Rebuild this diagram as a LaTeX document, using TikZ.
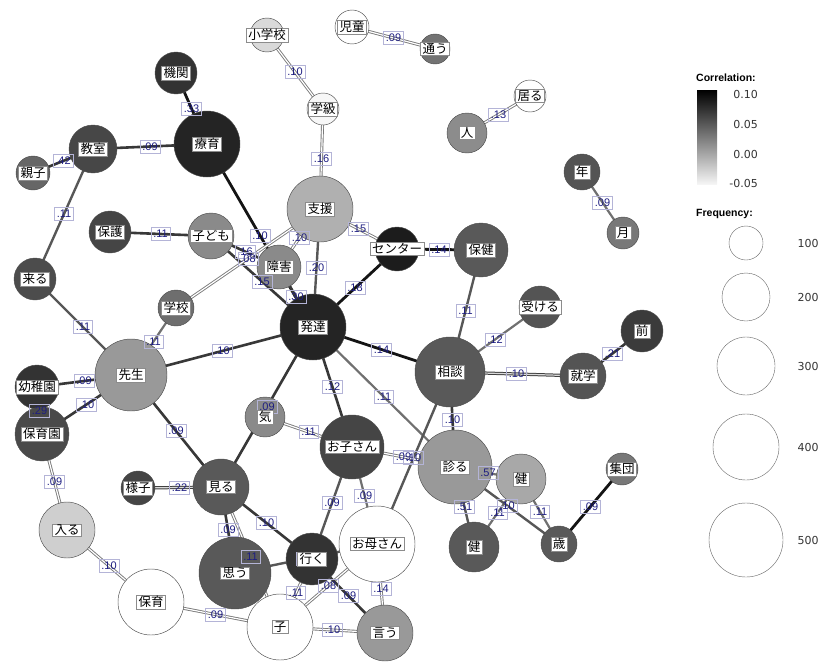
\documentclass[tikz,border=0pt]{standalone}
\usepackage{fontspec}
\setmainfont{Liberation Sans}
\newfontfamily\jp{Noto Sans CJK JP}
\newfontfamily\dv{DejaVu Sans}
\usetikzlibrary{calc}
\pgfdeclarelayer{bg}\pgfdeclarelayer{mid}\pgfdeclarelayer{fg}
\pgfsetlayers{bg,main,mid,fg}
\definecolor{navy}{RGB}{30,30,130}
\definecolor{lbox}{RGB}{180,180,215}
\tikzset{
  wn/.style={circle, draw=black!70, line width=0.45pt, inner sep=0pt},
  lab/.style={fill=white, draw=black!45, line width=0.3pt, inner xsep=2pt, inner ysep=1pt, font=\jp\fontsize{12.5}{12.5}\selectfont},
  elab/.style={draw=lbox, line width=0.45pt, inner xsep=2.2pt, inner ysep=2.6pt, text=navy, font=\fontsize{11}{11}\selectfont},
  eK/.style={draw=black!92, line width=2.8pt},
  eD/.style={draw=black!78, line width=2.6pt},
  eM/.style={draw=black!66, line width=2.4pt},
  eG/.style={draw=black!56, line width=2.2pt},
  eW/.style={draw=black!52, double=white, line width=0.9pt, double distance=1.2pt},
  eWd/.style={draw=black!75, double=black!15, line width=1pt, double distance=1.2pt},
  legc/.style={circle, draw=black!60, line width=0.4pt, inner sep=0pt},
  legt/.style={font=\dv\fontsize{11}{11}\selectfont, text=black!80},
}
\newcommand\N[6]{\node[wn, minimum size=#4pt, fill=#5] (#1) at (#2,#3) {};
  \begin{pgfonlayer}{fg}\node[lab] (#1t) at (#1.center) {#6};\end{pgfonlayer}}
\newcommand\E[4]{\begin{pgfonlayer}{bg}\draw[#3] (#1.center) -- (#2.center);\end{pgfonlayer}
  \begin{pgfonlayer}{mid}\node[elab] (#1#2) at ($(#1.center)!0.5!(#2.center)$) {#4};\end{pgfonlayer}}
\begin{document}
\begin{tikzpicture}[x=1pt, y=-1pt]
\useasboundingbox (0,0) rectangle (821,661);
% nodes
\N{shogakko}{267}{35}{34}{black!15}{小学校}
\N{jido}{352}{27}{34}{white}{児童}
\N{kayou}{435}{49}{30}{black!55}{通う}
\N{gakkyu}{323}{109}{32}{black!3}{学級}
\N{kikan}{176}{73}{42}{black!80}{機関}
\N{ryoiku}{207}{144}{66}{black!86}{療育}
\N{kyoshitsu}{93}{149}{48}{black!72}{教室}
\N{oyako}{33}{173}{34}{black!60}{親子}
\N{hito}{467}{133}{40}{black!45}{人}
\N{iru}{530}{96}{32}{white}{居る}
\N{nen}{582}{172}{36}{black!67}{年}
\N{tsuki}{623}{233}{32}{black!53}{月}
\N{shien}{320}{209}{66}{black!31}{支援}
\N{hogo}{110}{232}{42}{black!73}{保護}
\N{kodomo}{211}{236}{46}{black!46}{子ども}
\N{shogai}{279}{267}{44}{black!46}{障害}
\N{center}{397}{249}{44}{black!89}{センター}
\N{hoken}{481}{250}{54}{black!65}{保健}
\N{kuru}{35}{279}{42}{black!70}{来る}
\N{gakko}{176}{308}{36}{black!57}{学校}
\N{hattatsu}{313}{327}{66}{black!86}{発達}
\N{ukeru}{540}{307}{42}{black!67}{受ける}
\N{mae}{642}{331}{42}{black!77}{前}
\N{sensei}{131}{375}{72}{black!40}{先生}
\N{sodan}{450}{372}{70}{black!65}{相談}
\N{shugaku}{583}{376}{46}{black!67}{就学}
\N{yochien}{37}{387}{44}{black!80}{幼稚園}
\N{hoikuen}{42}{434}{54}{black!71}{保育園}
\N{ki}{265}{417}{40}{black!46}{気}
\N{okosan}{352}{447}{64}{black!73}{お子さん}
\N{shinru}{455}{467}{74}{black!40}{診る}
\N{kenU}{521}{479}{50}{black!34}{健}
\N{shudan}{622}{469}{32}{black!53}{集団}
\N{yosu}{138}{488}{34}{black!73}{様子}
\N{miru}{221}{487}{56}{black!65}{見る}
\N{hairu}{67}{530}{56}{black!19}{入る}
\N{okasan}{377}{544}{76}{white}{お母さん}
\N{kenL}{474}{547}{50}{black!65}{健}
\N{sai}{559}{544}{36}{black!65}{歳}
\N{omou}{235}{573}{72}{black!65}{思う}
\N{iku}{312}{559}{52}{black!80}{行く}
\N{hoiku}{151}{602}{66}{white}{保育}
\N{ko}{280}{627}{66}{white}{子}
\N{iu}{385}{633}{56}{black!40}{言う}
% edges
\E{jido}{kayou}{eW}{.09}
\E{shogakko}{gakkyu}{eW}{.10}
\E{gakkyu}{shien}{eW}{.16}
\E{hito}{iru}{eW}{.13}
\E{nen}{tsuki}{eG}{.09}
\E{kikan}{ryoiku}{eK}{.33}
\E{kyoshitsu}{ryoiku}{eD}{.09}
\E{oyako}{kyoshitsu}{eD}{.42}
\E{kyoshitsu}{kuru}{eM}{.11}
\E{ryoiku}{hattatsu}{eK}{.10}
\E{hogo}{kodomo}{eD}{.11}
\E{kodomo}{shogai}{eD}{.16}
\E{kodomo}{hattatsu}{eD}{.15}
\E{gakko}{shien}{eW}{.08}
\E{shogai}{shien}{eW}{.10}
\E{shogai}{hattatsu}{eD}{.30}
\E{shien}{hattatsu}{eM}{.20}
\E{shien}{center}{eW}{.15}
\E{hattatsu}{center}{eK}{.18}
\E{center}{hoken}{eK}{.14}
\E{hoken}{sodan}{eM}{.11}
\E{sodan}{ukeru}{eG}{.12}
\E{hattatsu}{sodan}{eK}{.14}
\E{sodan}{shugaku}{eWd}{.10}
\E{shugaku}{mae}{eD}{.21}
\E{kuru}{sensei}{eM}{.11}
\E{gakko}{sensei}{eG}{.11}
\E{sensei}{hattatsu}{eD}{.10}
\E{yochien}{sensei}{eD}{.09}
\E{hoikuen}{sensei}{eD}{.10}
\E{yochien}{hoikuen}{eD}{.29}
\E{hattatsu}{miru}{eD}{.09}
\E{hattatsu}{okosan}{eD}{.12}
\E{hattatsu}{shinru}{eG}{.11}
\E{sodan}{shinru}{eD}{.10}
\E{sodan}{okasan}{eM}{.10}
\E{shinru}{okosan}{eW}{.09}
\E{ki}{okosan}{eW}{.11}
\E{sensei}{miru}{eD}{.09}
\E{yosu}{miru}{eWd}{.22}
\E{miru}{omou}{eD}{.09}
\E{miru}{ko}{eW}{.11}
\E{miru}{iku}{eD}{.10}
\E{omou}{okasan}{eM}{.10}
\E{okosan}{iku}{eM}{.09}
\E{okosan}{okasan}{eG}{.09}
\E{iku}{ko}{eW}{.11}
\E{okasan}{ko}{eW}{.08}
\E{iku}{iu}{eD}{.09}
\E{okasan}{iu}{eW}{.14}
\E{ko}{iu}{eW}{.10}
\E{hoiku}{ko}{eW}{.09}
\E{hairu}{hoiku}{eW}{.10}
\E{hoikuen}{hairu}{eW}{.09}
\E{shinru}{kenU}{eG}{.57}
\E{shinru}{kenL}{eM}{.51}
\E{kenL}{kenU}{eG}{.11}
\E{shinru}{sai}{eM}{.10}
\E{kenU}{sai}{eG}{.11}
\E{sai}{shudan}{eK}{.09}
% legend
\node[anchor=west, font=\bfseries\fontsize{10.5}{10.5}\selectfont, inner sep=0pt] (corr) at (696,78) {Correlation:};
\shade[top color=black, bottom color=black!4] (697,90) rectangle (717,184);
\node[legt, anchor=east, inner sep=0pt] (c1) at (758,94) {0.10};
\node[legt, anchor=east, inner sep=0pt] (c2) at (758,124) {0.05};
\node[legt, anchor=east, inner sep=0pt] (c3) at (758,154) {0.00};
\node[legt, anchor=east, inner sep=0pt] (c4) at (758,183) {-0.05};
\node[anchor=west, font=\bfseries\fontsize{10.5}{10.5}\selectfont, inner sep=0pt] (freq) at (696,214) {Frequency:};
\node[legc, minimum size=34pt] (f1) at (746,243) {};
\node[legc, minimum size=48pt] (f2) at (746,297) {};
\node[legc, minimum size=58pt] (f3) at (746,366) {};
\node[legc, minimum size=66pt] (f4) at (746,447) {};
\node[legc, minimum size=74pt] (f5) at (746,540) {};
\node[legt] (l1) at (808,243) {100};
\node[legt] (l2) at (808,297) {200};
\node[legt] (l3) at (808,366) {300};
\node[legt] (l4) at (808,447) {400};
\node[legt] (l5) at (808,540) {500};
\end{tikzpicture}
\end{document}
